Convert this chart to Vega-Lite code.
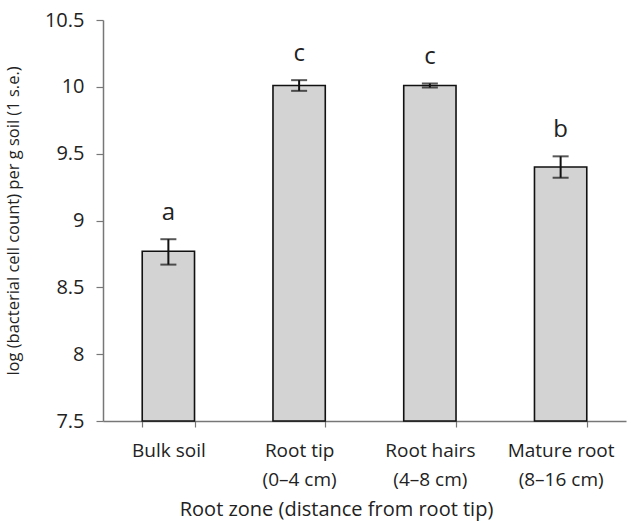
{
  "$schema": "https://vega.github.io/schema/vega-lite/v6.json",
  "width": 523,
  "height": 401,
  "autosize": "none",
  "padding": {"left": 103, "top": 20, "right": 10, "bottom": 100},
  "background": "white",
  "config": {
    "font": "Open Sans",
    "view": {"stroke": null},
    "axis": {
      "labelFont": "Open Sans",
      "titleFont": "Open Sans",
      "labelColor": "#222",
      "titleColor": "#222",
      "titleFontWeight": "normal",
      "domainColor": "#777",
      "tickColor": "#777",
      "domainWidth": 1.5,
      "tickWidth": 1.2,
      "grid": false
    }
  },
  "data": {
    "values": [
      {"zone": "Bulk soil", "mean": 8.77, "lower": 8.67, "upper": 8.86, "group": "a"},
      {"zone": "Root tip|(0–4 cm)", "mean": 10.01, "lower": 9.97, "upper": 10.05, "group": "c"},
      {"zone": "Root hairs|(4–8 cm)", "mean": 10.01, "lower": 9.995, "upper": 10.025, "group": "c"},
      {"zone": "Mature root|(8–16 cm)", "mean": 9.4, "lower": 9.32, "upper": 9.48, "group": "b"}
    ]
  },
  "encoding": {
    "x": {
      "field": "zone",
      "type": "nominal",
      "sort": null,
      "scale": {"paddingInner": 0.6, "paddingOuter": 0.3},
      "axis": {
        "labelExpr": "split(datum.label, '|')",
        "labelAngle": 0,
        "tickBand": "extent",
        "tickSize": 6,
        "labelPadding": 14,
        "labelLineHeight": 29,
        "labelFontSize": 19,
        "labelBaseline": "top",
        "title": "Root zone (distance from root tip)",
        "titleFontSize": 20,
        "titleX": 233,
        "titleY": 78
      }
    }
  },
  "layer": [
    {
      "mark": {"type": "bar", "fill": "#d3d3d3", "stroke": "#111", "strokeWidth": 1.6},
      "encoding": {
        "y": {
          "field": "mean",
          "type": "quantitative",
          "scale": {"domain": [7.5, 10.5], "nice": false, "zero": false},
          "axis": {
            "values": [7.5, 8, 8.5, 9, 9.5, 10, 10.5],
            "format": "~g",
            "labelFontSize": 20,
            "tickSize": 7,
            "labelPadding": 12,
            "title": "log (bacterial cell count) per g soil (1 s.e.)",
            "titleFontSize": 16.5,
            "titleX": -82
          }
        },
        "y2": {"datum": 7.5}
      }
    },
    {
      "mark": {"type": "rule", "color": "#111", "strokeWidth": 2},
      "encoding": {
        "y": {"field": "lower", "type": "quantitative"},
        "y2": {"field": "upper"}
      }
    },
    {
      "mark": {"type": "tick", "color": "#111", "size": 16, "thickness": 2},
      "encoding": {"y": {"field": "lower", "type": "quantitative"}}
    },
    {
      "mark": {"type": "tick", "color": "#111", "size": 16, "thickness": 2},
      "encoding": {"y": {"field": "upper", "type": "quantitative"}}
    },
    {
      "mark": {"type": "text", "fontSize": 24, "dy": -26, "baseline": "middle", "color": "#222"},
      "encoding": {
        "y": {"field": "upper", "type": "quantitative"},
        "text": {"field": "group"}
      }
    }
  ]
}
